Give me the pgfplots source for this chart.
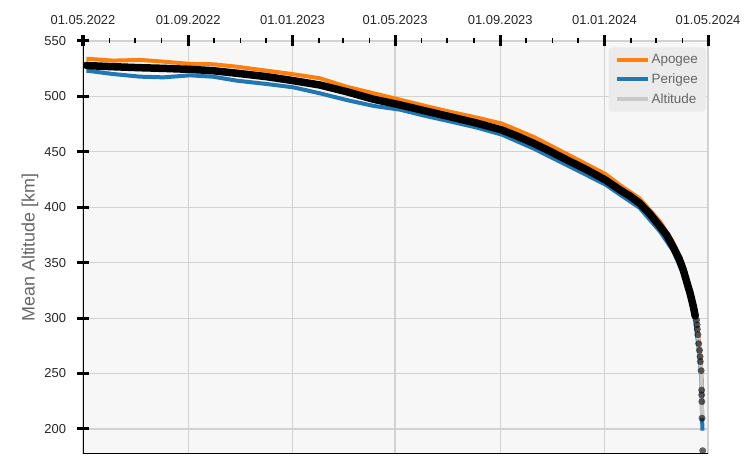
\documentclass[border=0pt]{standalone}
\usepackage{fontspec}
\setmainfont{Liberation Sans}
\usepackage{pgfplots}
\pgfplotsset{compat=1.18}

\definecolor{apo}{HTML}{FF7F0E}
\definecolor{peri}{HTML}{1F77B4}
\definecolor{altc}{HTML}{C8C8C8}
\definecolor{bgc}{HTML}{F7F7F7}
\definecolor{legc}{HTML}{EBEBEB}
\definecolor{gridc}{HTML}{D2D2D2}

\begin{document}
\begin{tikzpicture}
\begin{axis}[
    name=ax,
    width=625bp, height=413bp, scale only axis,
    xmin=0, xmax=731, ymin=177.4, ymax=550,
    axis background/.style={fill=bgc},
    axis line style={draw=none},
    xtick={0,123,245,365,488,610,731},
    xticklabels={01.05.2022,01.09.2022,01.01.2023,01.05.2023,01.09.2023,01.01.2024,01.05.2024},
    minor xtick={31,61,92,153,184,214,276,304,335,396,426,457,518,549,579,641,670,701},
    ytick={200,250,...,550},
    xtick pos=right, xticklabel pos=right,
    ytick pos=left,
    tick align=center,
    major tick length=11bp, minor tick length=5bp,
    major tick style={black, line width=3bp},
    minor tick style={black, line width=1.6bp},
    grid=major,
    major grid style={gridc, line width=1.2bp},
    tick label style={font=\fontsize{13}{15}\selectfont, text=black!85},
    xticklabel style={yshift=7bp},
    yticklabel style={xshift=-8bp},
    /pgf/number format/assume math mode=true,
    ylabel={Mean Altitude [km]},
    ylabel style={font=\fontsize{18}{21}\selectfont, text=black!60, at={(axis description cs:-0.085,0.5)}, anchor=center},
    legend cell align=left,
    legend image code/.code={\draw[#1, line width=4bp, opacity=1] (0bp,0bp) -- (31bp,0bp);},
    legend style={at={(rel axis cs:0.997,0.985)}, anchor=north east, fill=legc, draw=none,
        rounded corners=4bp, font=\fontsize{13.5}{15}\selectfont, text=black!60,
        inner xsep=6bp, inner ysep=5bp, row sep=4.5bp},
]
\addplot[apo, line width=4bp, line join=round] table[x=d, y=h] {
d h
4 534
8 533.8
35 532.3
67 532.9
94 531.4
125 529.3
152 529.0
180 526.8
215 523.2
246 520.0
277 516.4
308 508.8
340 502.8
371 497
400 491.5
429 486.2
460 481
490 475.5
527 463.5
566 448
611 430
628 420
651 408
675 387
690 368.5
702 347.5
710 326
716 304
720 282
722 266
723.3 250
724 213
};
\addlegendentry{Apogee}
\addplot[peri, line width=4bp, line join=round] table[x=d, y=h] {
d h
4 523
8 522.9
35 520.2
67 517.8
94 517.2
125 519.0
152 517.8
180 514.2
215 511.2
246 508.2
277 502.8
308 496.8
340 491.4
371 488
400 482.5
429 477.5
460 472
490 465.5
527 453
566 438
611 420.5
628 411.5
651 399.5
675 378
690 361
702 340
710 319
716 297
720 274
722 258
723.5 240
724.2 206.6
724.5 198.5
};
\addlegendentry{Perigee}
\addplot[altc, line width=4bp, line join=round] table[x=d, y=h] {
d h
4 528
8 527.7
35 526.8
67 525.9
94 525.3
125 524.4
152 523.2
180 520.9
215 517.8
246 514.2
277 510.3
308 504.3
340 497.4
371 492.3
400 487
429 481.7
460 476
490 469.7
510 463.5
527 457.7
545 451
566 442.7
590 433.5
611 424.6
628 415.6
640 410
651 403.6
663 394
675 382.6
683 374.5
690 364.6
697 354
702 343.6
706 333
710 322.6
714 308
716 300
718 294
719 286
720 278
721 271
721.7 265
722 261
723 252.6
723.6 235
723.6 230.7
723.6 224.7
724 209.7
};
\addlegendentry{Altitude}
% dense band of altitude samples
\addplot[black, line width=7.5bp, line cap=round, line join=round, forget plot] table[x=d, y=h] {
d h
4 528
8 527.7
35 526.8
67 525.9
94 525.3
125 524.4
152 523.2
180 520.9
215 517.8
246 514.2
277 510.3
308 504.3
340 497.4
371 492.3
400 487
429 481.7
460 476
490 469.7
510 463.5
527 457.7
545 451
566 442.7
590 433.5
611 424.6
628 415.6
640 410
651 403.6
663 394
675 382.6
683 374.5
690 364.6
697 354
702 343.6
706 333
710 322.6
714 310
716 302
};
% sparse samples near re-entry
\addplot[only marks, mark=*, mark size=3.5bp, black, draw opacity=0, fill opacity=0.6, forget plot] table[x=d, y=h] {
d h
700 348
703 341
706 333
708 327
710 322.6
712 316
714 309
716 302
717.7 298.3
718.2 294
718.5 290
719.2 285
720 277
721 271
721.7 265.2
722 260.7
723 252.6
723.6 235
723.6 230.7
723.8 224.7
724 209.7
724.8 180.4
};
\draw[black, line width=2.5bp] (rel axis cs:0,1) -- (rel axis cs:0,0) -- (rel axis cs:1,0);
\end{axis}
\pgfresetboundingbox
\path[use as bounding box] ([shift={(-83bp,-3bp)}]ax.south west) rectangle ([shift={(36bp,41bp)}]ax.north east);
\end{tikzpicture}
\end{document}
